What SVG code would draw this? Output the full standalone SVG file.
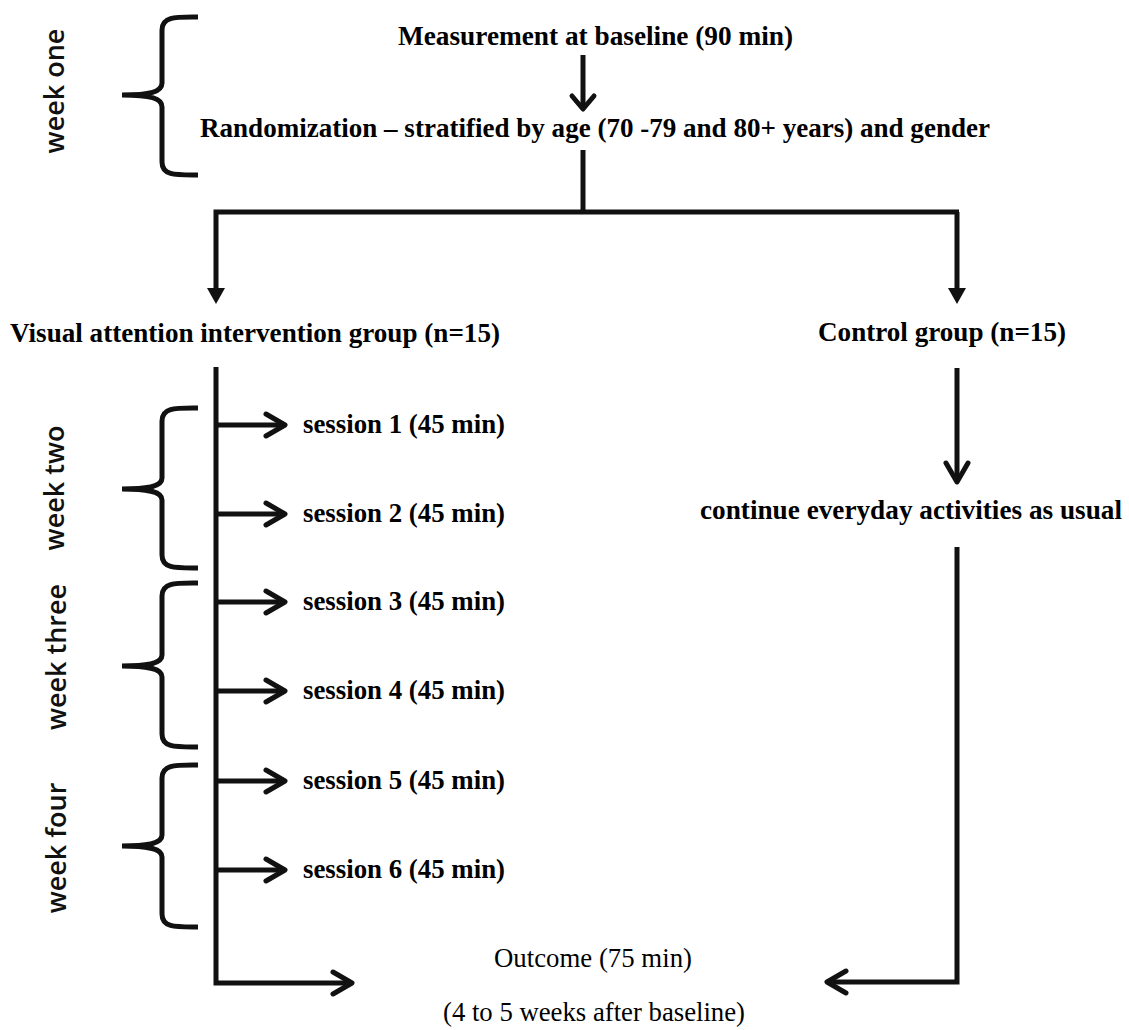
<svg xmlns="http://www.w3.org/2000/svg" width="1129" height="1030" viewBox="0 0 1129 1030">
<defs>
<style>
.b{font-family:"Liberation Serif","Times New Roman",serif;font-weight:bold;font-size:27px;fill:#000}
.r{font-family:"Liberation Serif","Times New Roman",serif;font-size:27px;fill:#000}
.w{font-family:"Open Sans","DejaVu Sans",sans-serif;font-size:27px;font-weight:600;fill:#111}
.ln{fill:none;stroke:#111;stroke-width:5;stroke-linecap:butt;stroke-linejoin:miter}
.br{fill:none;stroke:#111;stroke-width:5;stroke-linecap:butt}
.ch{fill:none;stroke:#111;stroke-width:5;stroke-linecap:round;stroke-linejoin:round}
</style>
</defs>
<rect width="1129" height="1030" fill="#fff"/>

<g id="braces">
<path class="br" d="M198,17 C176,17 162,16 162,30 L162,83 C162,92 150,95 122,95 C150,95 162,98 162,107 L162,162 C162,176 176,175 198,175"/>
<path class="br" d="M198,408 C176,408 162,407 162,421 L162,478 C162,486 150,489 122,489 C150,489 162,492 162,500 L162,555 C162,569 176,568 198,568"/>
<path class="br" d="M198,583 C176,583 162,582 162,596 L162,655 C162,663 150,666 122,666 C150,666 162,669 162,677 L162,734 C162,748 176,747 198,747"/>
<path class="br" d="M198,765 C176,765 162,764 162,778 L162,835 C162,843 150,846 122,846 C150,846 162,849 162,857 L162,914 C162,928 176,927 198,927"/>
</g>

<g id="week-labels">
<text class="w" transform="translate(64,91) rotate(-90)" text-anchor="middle">week one</text>
<text class="w" transform="translate(64,488) rotate(-90)" text-anchor="middle">week two</text>
<text class="w" transform="translate(66,657) rotate(-90)" text-anchor="middle">week three</text>
<text class="w" transform="translate(66,848) rotate(-90)" text-anchor="middle">week four</text>
</g>

<g id="n-measurement"><text class="b" x="398" y="45" textLength="395" lengthAdjust="spacingAndGlyphs">Measurement at baseline (90 min)</text></g>
<g id="n-randomization"><text class="b" x="200" y="137" textLength="790" lengthAdjust="spacingAndGlyphs">Randomization – stratified by age (70 -79 and 80+ years) and gender</text></g>
<g id="n-intervention"><text class="b" x="10" y="342" textLength="490" lengthAdjust="spacingAndGlyphs">Visual attention intervention group (n=15)</text></g>
<g id="n-control"><text class="b" x="818" y="341" textLength="248" lengthAdjust="spacingAndGlyphs">Control group (n=15)</text></g>
<g id="n-session1"><text class="b" x="303" y="433" textLength="202" lengthAdjust="spacingAndGlyphs">session 1 (45 min)</text></g>
<g id="n-session2"><text class="b" x="303" y="522" textLength="202" lengthAdjust="spacingAndGlyphs">session 2 (45 min)</text></g>
<g id="n-session3"><text class="b" x="303" y="610" textLength="202" lengthAdjust="spacingAndGlyphs">session 3 (45 min)</text></g>
<g id="n-session4"><text class="b" x="303" y="699" textLength="202" lengthAdjust="spacingAndGlyphs">session 4 (45 min)</text></g>
<g id="n-session5"><text class="b" x="303" y="789" textLength="202" lengthAdjust="spacingAndGlyphs">session 5 (45 min)</text></g>
<g id="n-session6"><text class="b" x="303" y="878" textLength="202" lengthAdjust="spacingAndGlyphs">session 6 (45 min)</text></g>
<g id="n-continue"><text class="b" x="700" y="519" textLength="422" lengthAdjust="spacingAndGlyphs">continue everyday activities as usual</text></g>
<g id="n-outcome">
<text class="r" x="494" y="967" textLength="198" lengthAdjust="spacingAndGlyphs">Outcome (75 min)</text>
<text class="r" x="443" y="1021" textLength="302" lengthAdjust="spacingAndGlyphs">(4 to 5 weeks after baseline)</text>
</g>

<g id="connectors">
<line class="ln" x1="583" y1="55" x2="583" y2="108"/>
<polyline class="ch" points="572,96 583,109 594,96"/>
<line class="ln" x1="583" y1="150" x2="583" y2="212"/>
<polyline class="ln" points="216,294 216,212 959,212"/>
<line class="ln" x1="957" y1="212" x2="957" y2="294"/>
<path d="M207,288 L225,288 L216,304 Z" fill="#111"/>
<path d="M948,288 L966,288 L957,304 Z" fill="#111"/>
<polyline class="ln" points="216,367 216,983 351,983"/>
<polyline class="ch" points="333,972 352,983 333,994"/>
<line class="ln" x1="216" y1="425" x2="284" y2="425"/>
<polyline class="ch" points="266,414 285,425 266,436"/>
<line class="ln" x1="216" y1="514" x2="284" y2="514"/>
<polyline class="ch" points="266,503 285,514 266,525"/>
<line class="ln" x1="216" y1="602" x2="284" y2="602"/>
<polyline class="ch" points="266,591 285,602 266,613"/>
<line class="ln" x1="216" y1="691" x2="284" y2="691"/>
<polyline class="ch" points="266,680 285,691 266,702"/>
<line class="ln" x1="216" y1="781" x2="284" y2="781"/>
<polyline class="ch" points="266,770 285,781 266,792"/>
<line class="ln" x1="216" y1="870" x2="284" y2="870"/>
<polyline class="ch" points="266,859 285,870 266,881"/>
<line class="ln" x1="957" y1="368" x2="957" y2="481"/>
<polyline class="ch" points="946,463 957,482 968,463"/>
<polyline class="ln" points="957,547 957,982 828,982"/>
<polyline class="ch" points="846,971 827,982 846,993"/>
</g>
</svg>
